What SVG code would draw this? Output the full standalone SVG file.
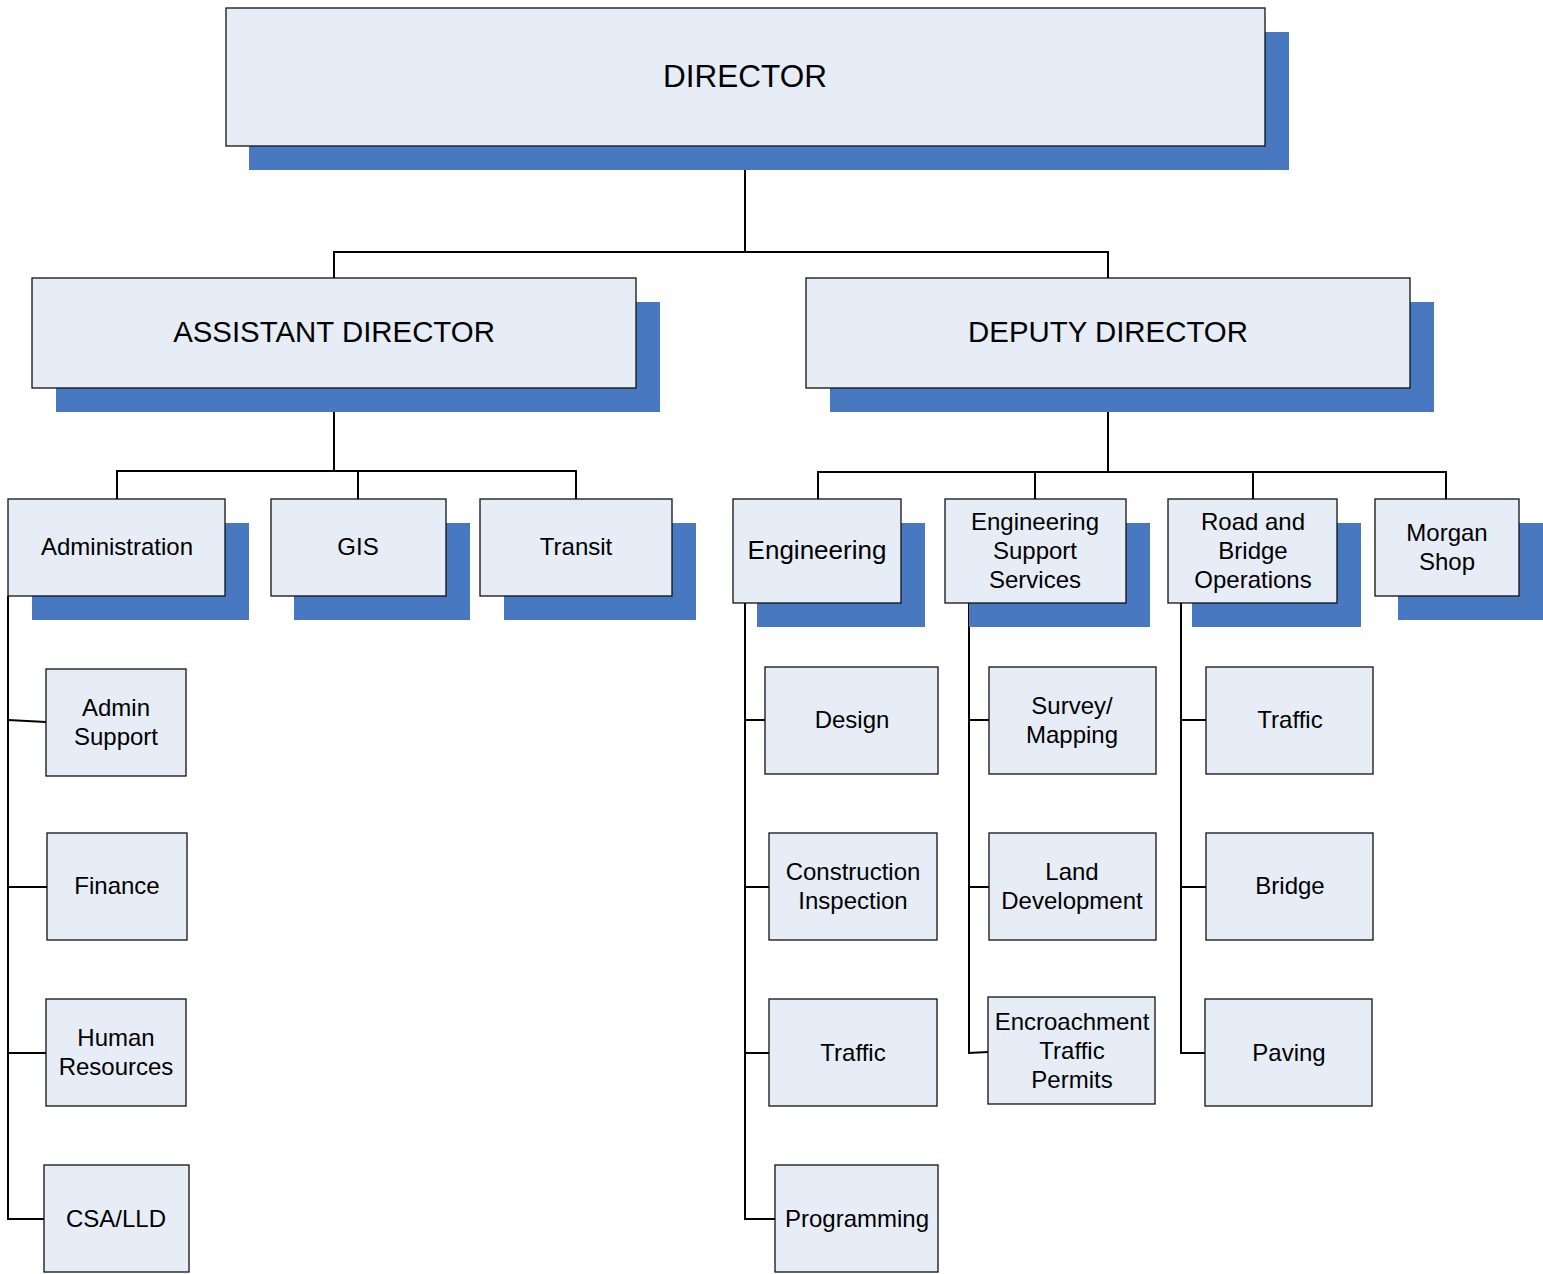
<svg xmlns="http://www.w3.org/2000/svg" width="1543" height="1274" viewBox="0 0 1543 1274">
<style>
.sh{fill:#4879C0}
.bx{fill:#E6EDF7;stroke:#111;stroke-width:1.3}
.t{font-family:"Liberation Sans",Arial,sans-serif;font-size:24px;fill:#000;text-anchor:middle}
.c{fill:none;stroke:#000;stroke-width:2}
</style>
<rect width="1543" height="1274" fill="#fff"/>
<g id="connectors">
<polyline class="c" points="745,170 745,252"/>
<polyline class="c" points="334,278 334,252 1108,252 1108,278"/>
<polyline class="c" points="334,412 334,471"/>
<polyline class="c" points="117,499 117,471 576,471 576,499"/>
<polyline class="c" points="358,471 358,499"/>
<polyline class="c" points="1108,412 1108,472"/>
<polyline class="c" points="818,499 818,472 1446,472 1446,499"/>
<polyline class="c" points="1035,472 1035,499"/>
<polyline class="c" points="1253,472 1253,499"/>
<polyline class="c" points="8,596 8,1219 44,1219"/>
<polyline class="c" points="8,720 46,722"/>
<polyline class="c" points="8,887 47,887"/>
<polyline class="c" points="8,1053 46,1053"/>
<polyline class="c" points="745,603 745,1219 775,1219"/>
<polyline class="c" points="745,720 765,720"/>
<polyline class="c" points="745,887 769,887"/>
<polyline class="c" points="745,1053 769,1053"/>
<polyline class="c" points="969,603 969,1053 988,1052"/>
<polyline class="c" points="969,720 989,720"/>
<polyline class="c" points="969,887 989,887"/>
<polyline class="c" points="1181,603 1181,1053 1205,1053"/>
<polyline class="c" points="1181,720 1206,720"/>
<polyline class="c" points="1181,887 1206,887"/>
</g>
<g id="director"><rect class="sh" x="249" y="32" width="1040" height="138"/><rect class="bx" x="226" y="8" width="1039" height="138"/><text class="t" x="745" y="87" style="font-size:31.5px">DIRECTOR</text></g>
<g id="assistant-director"><rect class="sh" x="56" y="302" width="604" height="110"/><rect class="bx" x="32" y="278" width="604" height="110"/><text class="t" x="334" y="342" style="font-size:29.4px">ASSISTANT DIRECTOR</text></g>
<g id="deputy-director"><rect class="sh" x="830" y="302" width="604" height="110"/><rect class="bx" x="806" y="278" width="604" height="110"/><text class="t" x="1108" y="342" style="font-size:29.4px">DEPUTY DIRECTOR</text></g>
<g id="administration"><rect class="sh" x="32" y="523" width="217" height="97"/><rect class="bx" x="8" y="499" width="217" height="97"/><text class="t" x="117" y="555">Administration</text></g>
<g id="gis"><rect class="sh" x="294" y="523" width="176" height="97"/><rect class="bx" x="271" y="499" width="175" height="97"/><text class="t" x="358" y="555">GIS</text></g>
<g id="transit"><rect class="sh" x="504" y="523" width="192" height="97"/><rect class="bx" x="480" y="499" width="192" height="97"/><text class="t" x="576" y="555">Transit</text></g>
<g id="engineering"><rect class="sh" x="757" y="523" width="168" height="104"/><rect class="bx" x="733" y="499" width="168" height="104"/><text class="t" x="817" y="559" style="font-size:26px">Engineering</text></g>
<g id="engineering-support-services"><rect class="sh" x="969" y="523" width="181" height="104"/><rect class="bx" x="945" y="499" width="181" height="104"/><text class="t" x="1035" y="530">Engineering</text><text class="t" x="1035" y="559">Support</text><text class="t" x="1035" y="588">Services</text></g>
<g id="road-bridge-operations"><rect class="sh" x="1192" y="523" width="169" height="104"/><rect class="bx" x="1168" y="499" width="169" height="104"/><text class="t" x="1253" y="530">Road and</text><text class="t" x="1253" y="559">Bridge</text><text class="t" x="1253" y="588">Operations</text></g>
<g id="morgan-shop"><rect class="sh" x="1398" y="523" width="145" height="97"/><rect class="bx" x="1375" y="499" width="144" height="97"/><text class="t" x="1447" y="541">Morgan</text><text class="t" x="1447" y="570">Shop</text></g>
<g id="admin-support"><rect class="bx" x="46" y="669" width="140" height="107"/><text class="t" x="116" y="716">Admin</text><text class="t" x="116" y="745">Support</text></g>
<g id="finance"><rect class="bx" x="47" y="833" width="140" height="107"/><text class="t" x="117" y="894">Finance</text></g>
<g id="human-resources"><rect class="bx" x="46" y="999" width="140" height="107"/><text class="t" x="116" y="1046">Human</text><text class="t" x="116" y="1075">Resources</text></g>
<g id="csa-lld"><rect class="bx" x="44" y="1165" width="145" height="107"/><text class="t" x="116" y="1227">CSA/LLD</text></g>
<g id="design"><rect class="bx" x="765" y="667" width="173" height="107"/><text class="t" x="852" y="728">Design</text></g>
<g id="construction-inspection"><rect class="bx" x="769" y="833" width="168" height="107"/><text class="t" x="853" y="880">Construction</text><text class="t" x="853" y="909">Inspection</text></g>
<g id="eng-traffic"><rect class="bx" x="769" y="999" width="168" height="107"/><text class="t" x="853" y="1061">Traffic</text></g>
<g id="programming"><rect class="bx" x="775" y="1165" width="163" height="107"/><text class="t" x="857" y="1227">Programming</text></g>
<g id="survey-mapping"><rect class="bx" x="989" y="667" width="167" height="107"/><text class="t" x="1072" y="714">Survey/</text><text class="t" x="1072" y="743">Mapping</text></g>
<g id="land-development"><rect class="bx" x="989" y="833" width="167" height="107"/><text class="t" x="1072" y="880">Land</text><text class="t" x="1072" y="909">Development</text></g>
<g id="encroachment"><rect class="bx" x="988" y="997" width="167" height="107"/><text class="t" x="1072" y="1030">Encroachment</text><text class="t" x="1072" y="1059">Traffic</text><text class="t" x="1072" y="1088">Permits</text></g>
<g id="rbo-traffic"><rect class="bx" x="1206" y="667" width="167" height="107"/><text class="t" x="1290" y="728">Traffic</text></g>
<g id="bridge"><rect class="bx" x="1206" y="833" width="167" height="107"/><text class="t" x="1290" y="894">Bridge</text></g>
<g id="paving"><rect class="bx" x="1205" y="999" width="167" height="107"/><text class="t" x="1289" y="1061">Paving</text></g>
</svg>
